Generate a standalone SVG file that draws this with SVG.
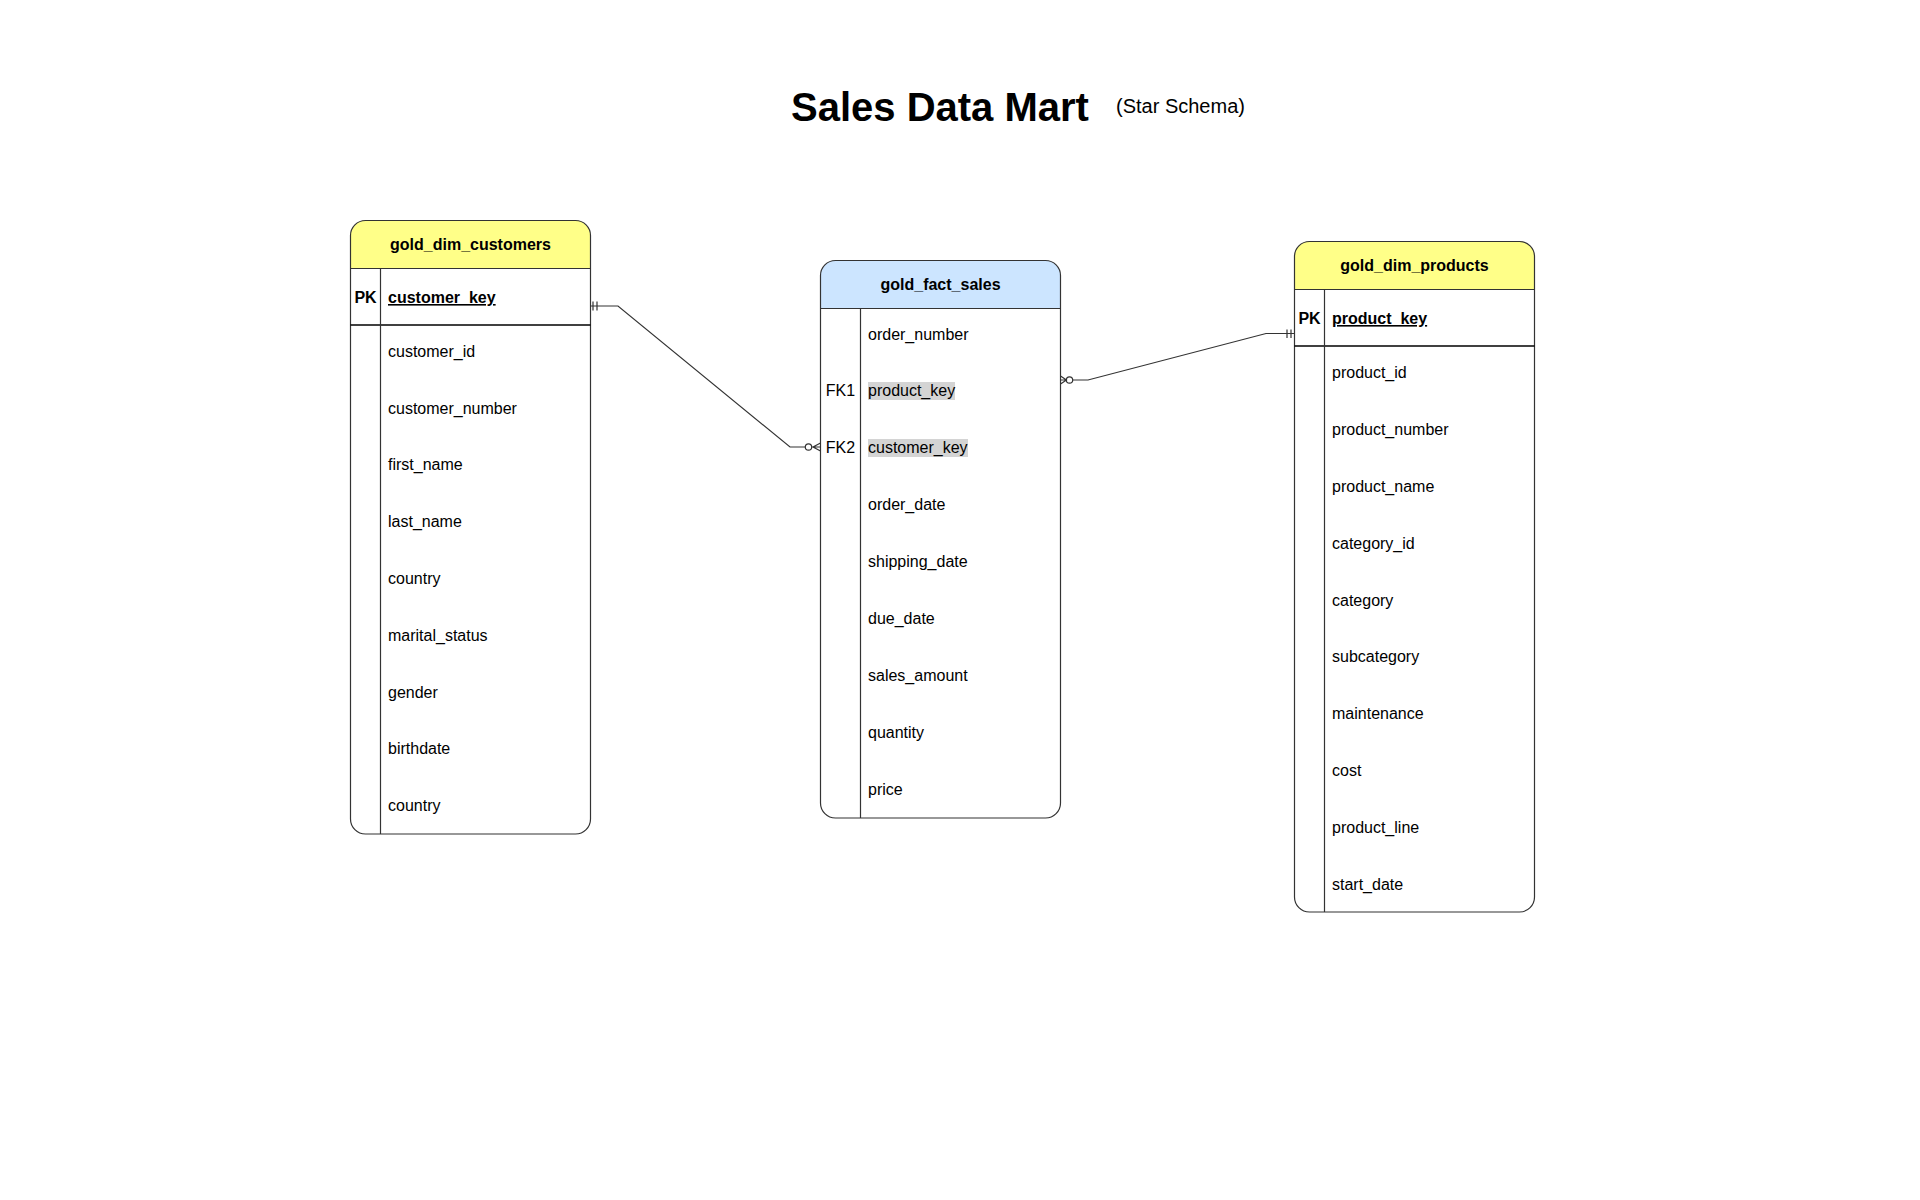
<svg xmlns="http://www.w3.org/2000/svg" width="1920" height="1200" viewBox="0 0 1920 1200">
<style>
text{font-family:"Liberation Sans",Arial,Helvetica,sans-serif;fill:#000;}
.title{font-size:40px;font-weight:bold;}
.sub{font-size:20px;}
.hdr{font-size:16px;font-weight:bold;text-anchor:middle;}
.f{font-size:16px;}
.k{font-size:16px;text-anchor:middle;}
.kb{font-size:16px;font-weight:bold;text-anchor:middle;}
.pk{font-size:16px;font-weight:bold;text-decoration:underline;}
.box{fill:none;stroke:#333;stroke-width:1.2;}
.sep{stroke:#333;stroke-width:1.2;fill:none;}
.pksep{stroke:#000;stroke-width:1.4;fill:none;}
.yel{fill:#ffff88;}
.blu{fill:#cce5ff;}
.hl{fill:#d4d4d4;}
.conn{fill:none;stroke:#333;stroke-width:1.2;}
</style>
<rect x="0" y="0" width="1920" height="1200" fill="#ffffff"/>
<g id="title">
<text class="title" x="791" y="121">Sales Data Mart</text>
<text class="sub" x="1116" y="113">(Star Schema)</text>
</g>

<g id="gold_dim_customers">
<rect x="350.5" y="220.5" width="240" height="613.5" rx="15" fill="#fff"/>
<path class="yel" d="M350.5 268.5 V235.5 A15 15 0 0 1 365.5 220.5 H575.5 A15 15 0 0 1 590.5 235.5 V268.5 Z"/>
<rect class="box" x="350.5" y="220.5" width="240" height="613.5" rx="15"/>
<line class="sep" x1="350.5" y1="268.5" x2="590.5" y2="268.5"/>
<line class="pksep" x1="350.5" y1="325" x2="590.5" y2="325"/>
<line class="sep" x1="380.5" y1="268.5" x2="380.5" y2="834"/>
<text class="hdr" x="470.5" y="250">gold_dim_customers</text>
<text class="kb" x="365.5" y="303">PK</text>
<text class="pk" x="388" y="303">customer_key</text>
<text class="f" x="388" y="357">customer_id</text>
<text class="f" x="388" y="414">customer_number</text>
<text class="f" x="388" y="470">first_name</text>
<text class="f" x="388" y="527">last_name</text>
<text class="f" x="388" y="584">country</text>
<text class="f" x="388" y="641">marital_status</text>
<text class="f" x="388" y="698">gender</text>
<text class="f" x="388" y="754">birthdate</text>
<text class="f" x="388" y="811">country</text>
</g>

<g id="gold_fact_sales">
<rect x="820.5" y="260.5" width="240" height="557.5" rx="15" fill="#fff"/>
<path class="blu" d="M820.5 308.5 V275.5 A15 15 0 0 1 835.5 260.5 H1045.5 A15 15 0 0 1 1060.5 275.5 V308.5 Z"/>
<rect class="box" x="820.5" y="260.5" width="240" height="557.5" rx="15"/>
<line class="sep" x1="820.5" y1="308.5" x2="1060.5" y2="308.5"/>
<line class="sep" x1="860.5" y1="308.5" x2="860.5" y2="818"/>
<text class="hdr" x="940.5" y="290">gold_fact_sales</text>
<text class="f" x="868" y="340">order_number</text>
<rect class="hl" x="868" y="382" width="87" height="18"/>
<text class="k" x="840.5" y="396">FK1</text>
<text class="f" x="868" y="396">product_key</text>
<rect class="hl" x="868" y="439" width="100" height="18"/>
<text class="k" x="840.5" y="453">FK2</text>
<text class="f" x="868" y="453">customer_key</text>
<text class="f" x="868" y="510">order_date</text>
<text class="f" x="868" y="567">shipping_date</text>
<text class="f" x="868" y="624">due_date</text>
<text class="f" x="868" y="681">sales_amount</text>
<text class="f" x="868" y="738">quantity</text>
<text class="f" x="868" y="795">price</text>
</g>

<g id="gold_dim_products">
<rect x="1294.5" y="241.5" width="240" height="670.5" rx="15" fill="#fff"/>
<path class="yel" d="M1294.5 289.5 V256.5 A15 15 0 0 1 1309.5 241.5 H1519.5 A15 15 0 0 1 1534.5 256.5 V289.5 Z"/>
<rect class="box" x="1294.5" y="241.5" width="240" height="670.5" rx="15"/>
<line class="sep" x1="1294.5" y1="289.5" x2="1534.5" y2="289.5"/>
<line class="pksep" x1="1294.5" y1="346" x2="1534.5" y2="346"/>
<line class="sep" x1="1324.5" y1="289.5" x2="1324.5" y2="912"/>
<text class="hdr" x="1414.5" y="271">gold_dim_products</text>
<text class="kb" x="1309.5" y="324">PK</text>
<text class="pk" x="1332" y="324">product_key</text>
<text class="f" x="1332" y="378">product_id</text>
<text class="f" x="1332" y="435">product_number</text>
<text class="f" x="1332" y="492">product_name</text>
<text class="f" x="1332" y="549">category_id</text>
<text class="f" x="1332" y="606">category</text>
<text class="f" x="1332" y="662">subcategory</text>
<text class="f" x="1332" y="719">maintenance</text>
<text class="f" x="1332" y="776">cost</text>
<text class="f" x="1332" y="833">product_line</text>
<text class="f" x="1332" y="890">start_date</text>
</g>

<g id="connectors">
<g id="conn-customers-fact">
<path class="conn" d="M590.5 306 H618 L790 447 H805"/>
<line class="conn" x1="593" y1="301.5" x2="593" y2="310.5"/>
<line class="conn" x1="597" y1="301.5" x2="597" y2="310.5"/>
<circle class="conn" cx="808.5" cy="447" r="3.2" fill="#fff"/>
<path class="conn" d="M820.5 443 L813 447 L820.5 451 M812 447 H820.5"/>
</g>
<g id="conn-products-fact">
<path class="conn" d="M1294.5 333.5 H1266 L1088 380 H1073"/>
<line class="conn" x1="1287" y1="329.5" x2="1287" y2="338"/>
<line class="conn" x1="1291" y1="329.5" x2="1291" y2="338"/>
<circle class="conn" cx="1069.5" cy="380" r="3.2" fill="#fff"/>
<path class="conn" d="M1060.5 376 L1066.5 380 L1060.5 384 M1060.5 380 H1066.5"/>
</g>
</g>
</svg>
